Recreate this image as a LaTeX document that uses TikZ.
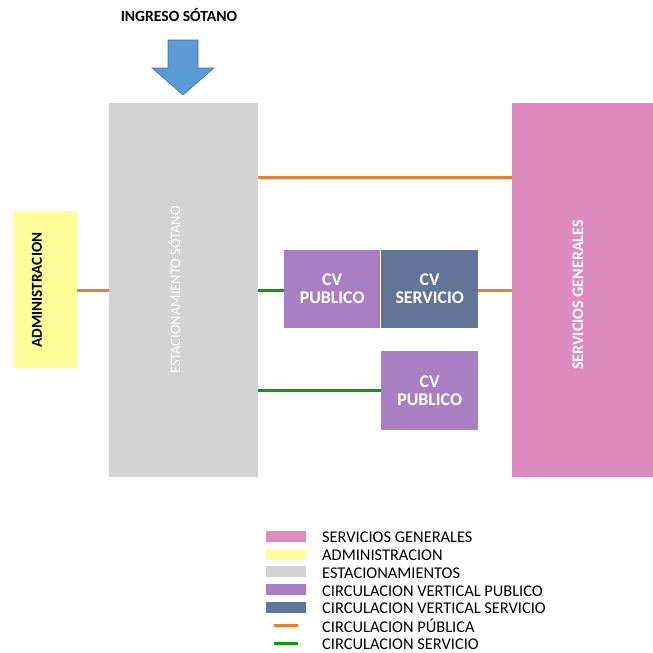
\documentclass[tikz,border=0pt]{standalone}
\usepackage{fontspec}
\setmainfont{Carlito}
\begin{document}
\begin{tikzpicture}[x=1pt,y=-1pt,
  area/.style={draw=none,inner sep=0pt,anchor=north west},
  boxlbl/.style={font=\fontsize{17.8}{18}\selectfont\bfseries,text=white,align=center},
  orangeline/.style={draw=orng,line width=3pt},
  greenline/.style={draw=grn,line width=3pt},
  legtext/.style={font=\fontsize{16.4}{17}\selectfont,anchor=west,inner sep=0pt},
  swatch/.style={minimum width=40pt,minimum height=11pt,inner sep=0pt}]
\definecolor{orng}{HTML}{ED7D31}
\definecolor{grn}{HTML}{0A9A0A}
\definecolor{gray1}{HTML}{D3D3D3}
\definecolor{yel}{HTML}{FFFF99}
\definecolor{pnk}{HTML}{DE8BBF}
\definecolor{purp}{HTML}{A77FC2}
\definecolor{slate}{HTML}{627498}
\definecolor{arrowblue}{HTML}{5B9BD5}
\definecolor{arrowedge}{HTML}{41719C}
\useasboundingbox (0,0) rectangle (653,653);
% entrance
\node[font=\fontsize{15.6}{16}\selectfont\bfseries] (ingreso) at (179,15) {INGRESO SÓTANO};
\draw[fill=arrowblue,draw=arrowedge,line width=0.6pt] (168,40) -- (198,40) -- (198,68) -- (214,68) -- (183,95) -- (152,68) -- (168,68) -- cycle;
% areas
\node[area,fill=gray1,minimum width=149pt,minimum height=374pt] (est) at (109,103) {};
\node[rotate=90,font=\fontsize{14.5}{15}\selectfont,text=white] (estl) at (174,290) {ESTACIONAMIENTO SÓTANO};
\node[area,fill=yel,minimum width=64pt,minimum height=157pt] (adm) at (13,211) {};
\node[rotate=90,font=\fontsize{15.2}{16}\selectfont\bfseries] (adml) at (37,290) {ADMINISTRACION};
\node[area,fill=pnk,minimum width=141pt,minimum height=374pt] (serv) at (512,103) {};
\node[rotate=90,font=\fontsize{16}{17}\selectfont\bfseries,text=white] (servl) at (578,295) {SERVICIOS GENERALES};
\node[area,fill=purp,minimum width=96pt,minimum height=78pt] (cvp1) at (284,250) {};
\node[boxlbl] at (cvp1.center) {CV\\PUBLICO};
\node[area,fill=slate,minimum width=97pt,minimum height=78pt] (cvs) at (381,250) {};
\node[boxlbl] at (cvs.center) {CV\\SERVICIO};
\node[area,fill=purp,minimum width=97pt,minimum height=79pt] (cvp2) at (381,351) {};
\node[boxlbl] at (cvp2.center) {CV\\PUBLICO};
% connectors
\draw[orangeline] (est.east |- 0,177) -- (serv.west |- 0,177);
\draw[orangeline] (adm.east |- 0,290) -- (est.west |- 0,290);
\draw[orangeline] (cvs.east |- 0,290) -- (serv.west |- 0,290);
\draw[greenline] (est.east |- 0,290) -- (cvp1.west |- 0,290);
\draw[greenline] (est.east |- 0,390) -- (cvp2.west |- 0,390);
% legend
\node[swatch,fill=pnk] (s1) at (286,536) {};
\node[legtext] (t1) at (322,537) {SERVICIOS GENERALES};
\node[swatch,fill=yel] (s2) at (286,554) {};
\node[legtext] (t2) at (322,555) {ADMINISTRACION};
\node[swatch,fill=gray1] (s3) at (286,571) {};
\node[legtext] (t3) at (322,573) {ESTACIONAMIENTOS};
\node[swatch,fill=purp] (s4) at (286,589) {};
\node[legtext] (t4) at (322,591) {CIRCULACION VERTICAL PUBLICO};
\node[swatch,fill=slate] (s5) at (286,607) {};
\node[legtext] (t5) at (322,608) {CIRCULACION VERTICAL SERVICIO};
\coordinate (o1) at (274,625); \coordinate (o2) at (298,625);
\draw[orangeline] (o1) -- (o2);
\node[legtext] (t6) at (322,626) {CIRCULACION PÚBLICA};
\coordinate (g1) at (274,643); \coordinate (g2) at (298,643);
\draw[greenline] (g1) -- (g2);
\node[legtext] (t7) at (322,644) {CIRCULACION SERVICIO};
\end{tikzpicture}
\end{document}
